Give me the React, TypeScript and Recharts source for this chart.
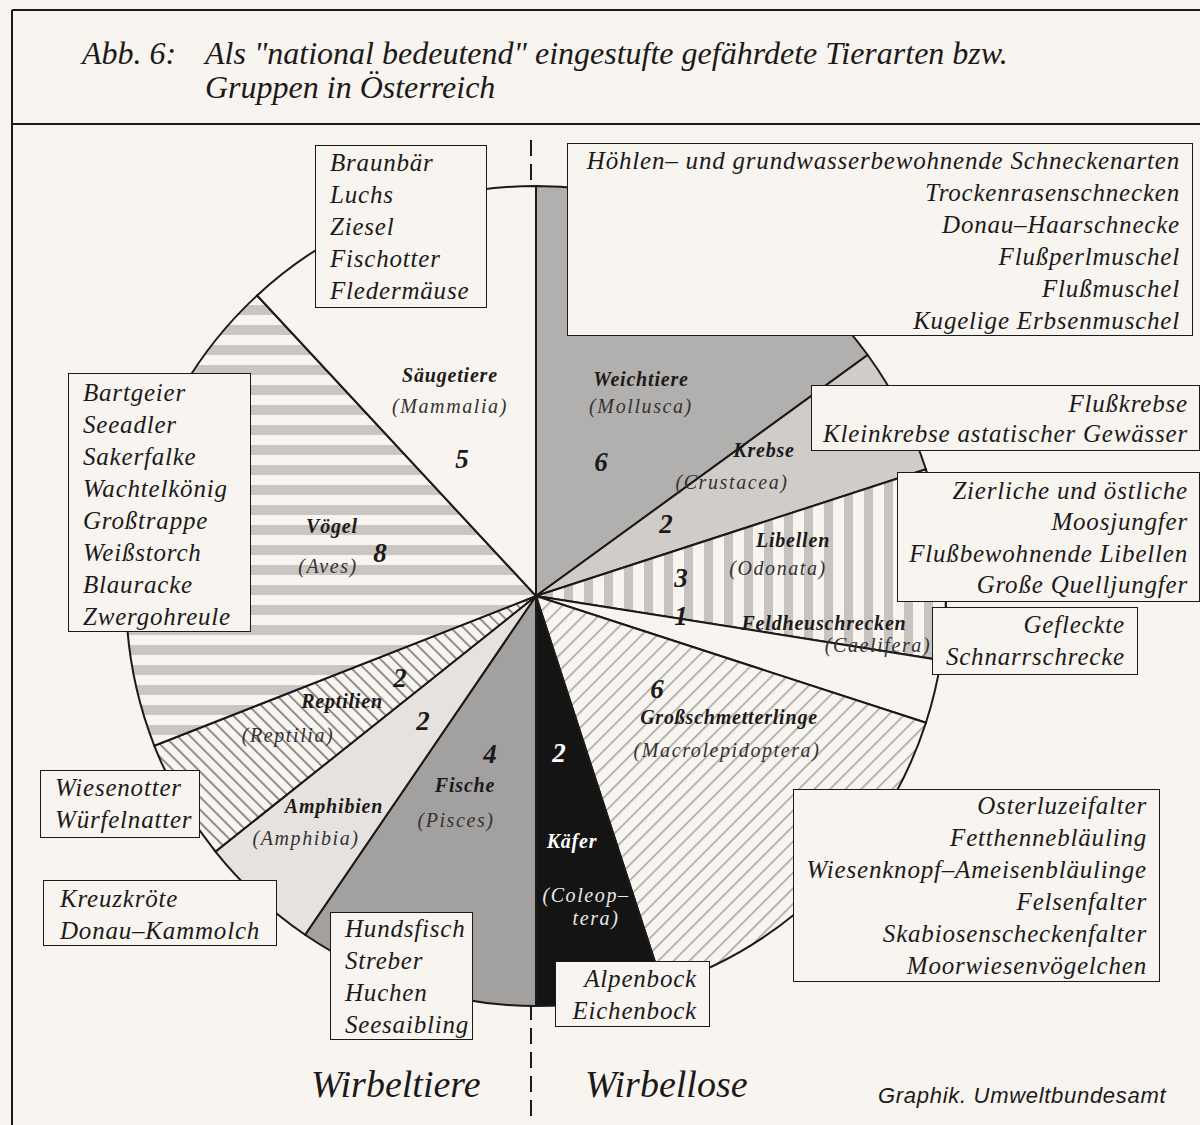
import React from "react";
import { PieChart, Pie, Cell } from "recharts";

// Wirbellose (rechte Hälfte), im Uhrzeigersinn ab 12 Uhr
const INV_GROUPS = ["Weichtiere", "Krebse", "Libellen", "Feldheuschrecken", "Großschmetterlinge", "Käfer"];
const INV_LATIN = ["(Mollusca)", "(Crustacea)", "(Odonata)", "(Caelifera)", "(Macrolepidoptera)", "(Coleop–\ntera)"];
const INV_COUNTS = [6, 2, 3, 1, 6, 2];

// Wirbeltiere (linke Hälfte), im Uhrzeigersinn ab 6 Uhr
const VERT_GROUPS = ["Fische", "Amphibien", "Reptilien", "Vögel", "Säugetiere"];
const VERT_LATIN = ["(Pisces)", "(Amphibia)", "(Reptilia)", "(Aves)", "(Mammalia)"];
const VERT_COUNTS = [4, 2, 2, 8, 5];

const SP_SAEUGER = ["Braunbär", "Luchs", "Ziesel", "Fischotter", "Fledermäuse"];
const SP_WEICHTIERE = [
  "Höhlen– und grundwasserbewohnende Schneckenarten",
  "Trockenrasenschnecken",
  "Donau–Haarschnecke",
  "Flußperlmuschel",
  "Flußmuschel",
  "Kugelige Erbsenmuschel",
];
const SP_KREBSE = ["Flußkrebse", "Kleinkrebse astatischer Gewässer"];
const SP_LIBELLEN = ["Zierliche und östliche", "Moosjungfer", "Flußbewohnende Libellen", "Große Quelljungfer"];
const SP_HEUSCHRECKEN = ["Gefleckte", "Schnarrschrecke"];
const SP_SCHMETTERLINGE = [
  "Osterluzeifalter",
  "Fetthennebläuling",
  "Wiesenknopf–Ameisenbläulinge",
  "Felsenfalter",
  "Skabiosenscheckenfalter",
  "Moorwiesenvögelchen",
];
const SP_KAEFER = ["Alpenbock", "Eichenbock"];
const SP_FISCHE = ["Hundsfisch", "Streber", "Huchen", "Seesaibling"];
const SP_AMPHIBIEN = ["Kreuzkröte", "Donau–Kammolch"];
const SP_REPTILIEN = ["Wiesenotter", "Würfelnatter"];
const SP_VOEGEL = ["Bartgeier", "Seeadler", "Sakerfalke", "Wachtelkönig", "Großtrappe", "Weißstorch", "Blauracke", "Zwergohreule"];

const BG = "#f8f4f0";
const INK = "#1c1a19";
const SERIF = "'Liberation Serif', 'Times New Roman', serif";
const CX = 531;
const CY = 591;
const R = 410;

const INV_FILLS = ["#b2b0ae", "#cfccc9", "url(#pLib)", BG, "url(#pSchm)", "#151414"];
const VERT_FILLS = ["#a3a1a0", "#e5e2df", "url(#pRept)", "url(#pVoeg)", BG];

// Beschriftungspositionen relativ zum Kreismittelpunkt
type LL = { n: [number, number]; l: [number, number][]; c: [number, number]; light?: boolean };
const INV_LAYOUT: LL[] = [
  { n: [110, -205], l: [[110, -178]], c: [70, -120] },
  { n: [233, -134], l: [[201, -102]], c: [135, -58] },
  { n: [262, -44], l: [[247, -16]], c: [150, -4] },
  { n: [293, 39], l: [[347, 61]], c: [150, 34] },
  { n: [198, 133], l: [[196, 166]], c: [126, 107] },
  { n: [41, 257], l: [[55, 311], [65, 334]], c: [28, 171], light: true },
];
const VERT_LAYOUT: LL[] = [
  { n: [-66, 201], l: [[-75, 236]], c: [-41, 172] },
  { n: [-197, 222], l: [[-225, 254]], c: [-108, 139] },
  { n: [-189, 117], l: [[-243, 151]], c: [-131, 96] },
  { n: [-199, -58], l: [[-203, -18]], c: [-151, -29] },
  { n: [-81, -209], l: [[-81, -178]], c: [-69, -123] },
];

const makeLabel = (names: string[], latin: string[], counts: number[], layout: LL[]) => (props: any) => {
  const i = props.index;
  const L = layout[i];
  const col = L.light ? "#ffffff" : INK;
  const lines = latin[i].split("\n");
  return (
    <g>
      <text x={CX + L.n[0]} y={CY + L.n[1]} textAnchor="middle" fill={col}
        style={{ fontFamily: SERIF, fontStyle: "italic", fontWeight: 700, fontSize: 20, letterSpacing: 0.8 }}>
        {names[i]}
      </text>
      {lines.map((t, k) => (
        <text key={k} x={CX + L.l[k][0]} y={CY + L.l[k][1]} textAnchor="middle" fill={L.light ? "#e8e8e8" : "#343230"}
          style={{ fontFamily: SERIF, fontStyle: "italic", fontSize: 20, letterSpacing: 1.6 }}>
          {t}
        </text>
      ))}
      <text x={CX + L.c[0]} y={CY + L.c[1]} textAnchor="middle" fill={col}
        style={{ fontFamily: SERIF, fontStyle: "italic", fontWeight: 700, fontSize: 27 }}>
        {counts[i]}
      </text>
    </g>
  );
};

type Box = { items: string[]; left: number; top: number; w: number; h: number; align: "left" | "right"; pad: number; lh: number; pt: number };
const BOXES: Box[] = [
  { items: SP_SAEUGER, left: 315, top: 145, w: 172, h: 163, align: "left", pad: 14, lh: 32, pt: 1 },
  { items: SP_WEICHTIERE, left: 567, top: 143, w: 626, h: 193, align: "right", pad: 12, lh: 32, pt: 1 },
  { items: SP_KREBSE, left: 811, top: 385, w: 389, h: 66, align: "right", pad: 11, lh: 30, pt: 3 },
  { items: SP_LIBELLEN, left: 897, top: 472, w: 303, h: 130, align: "right", pad: 11, lh: 31.3, pt: 2 },
  { items: SP_HEUSCHRECKEN, left: 932, top: 607, w: 206, h: 68, align: "right", pad: 12, lh: 32, pt: 1 },
  { items: SP_SCHMETTERLINGE, left: 793, top: 789, w: 367, h: 193, align: "right", pad: 12, lh: 32, pt: 0 },
  { items: SP_KAEFER, left: 555, top: 961, w: 155, h: 66, align: "right", pad: 12, lh: 32, pt: 1 },
  { items: SP_FISCHE, left: 330, top: 912, w: 143, h: 128, align: "left", pad: 14, lh: 32, pt: 0 },
  { items: SP_AMPHIBIEN, left: 43, top: 880, w: 234, h: 66, align: "left", pad: 16, lh: 32, pt: 2 },
  { items: SP_REPTILIEN, left: 40, top: 770, w: 160, h: 68, align: "left", pad: 14, lh: 32, pt: 1 },
  { items: SP_VOEGEL, left: 68, top: 373, w: 183, h: 259, align: "left", pad: 14, lh: 32, pt: 3 },
];

function SpeciesBox({ b }: { b: Box }) {
  return (
    <div style={{
      position: "absolute", left: b.left, top: b.top, width: b.w, height: b.h, boxSizing: "border-box",
      border: `1.5px solid ${INK}`, background: BG, paddingTop: b.pt,
      paddingLeft: b.align === "left" ? b.pad : 0, paddingRight: b.align === "right" ? b.pad : 0,
      textAlign: b.align, fontFamily: SERIF, fontStyle: "italic", fontSize: 25, letterSpacing: 0.8,
      lineHeight: `${b.lh}px`, color: INK, whiteSpace: "nowrap", overflow: "hidden",
    }}>
      {b.items.map((s) => <div key={s}>{s}</div>)}
    </div>
  );
}

const invData = INV_GROUPS.map((g, i) => ({ name: g, value: INV_COUNTS[i] }));
const vertData = VERT_GROUPS.map((g, i) => ({ name: g, value: VERT_COUNTS[i] }));

export default function App() {
  return (
    <div style={{ position: "relative", width: 1200, height: 1125, background: BG, overflow: "hidden" }}>
      <style>{`body{margin:0;background:${BG}}`}</style>
      <svg width="0" height="0" style={{ position: "absolute" }}>
        <defs>
          <pattern id="pVoeg" patternUnits="userSpaceOnUse" width="20" height="20">
            <rect width="20" height="20" fill={BG} />
            <rect y="5" width="20" height="10" fill="#c8c5c2" />
          </pattern>
          <pattern id="pLib" patternUnits="userSpaceOnUse" width="20" height="20">
            <rect width="20" height="20" fill={BG} />
            <rect x="4" width="9" height="20" fill="#c6c3c0" />
          </pattern>
          <pattern id="pSchm" patternUnits="userSpaceOnUse" width="11" height="11" patternTransform="rotate(45)">
            <rect width="11" height="11" fill={BG} />
            <rect width="1.6" height="11" fill="#a8a6a4" />
          </pattern>
          <pattern id="pRept" patternUnits="userSpaceOnUse" width="9" height="9" patternTransform="rotate(-45)">
            <rect width="9" height="9" fill={BG} />
            <rect width="1.7" height="9" fill="#7f7d7b" />
          </pattern>
        </defs>
      </svg>

      {/* Rahmen und Trennlinie */}
      <svg width={1200} height={1125} style={{ position: "absolute", left: 0, top: 0 }}>
        <line x1={12} y1={10} x2={1200} y2={10} stroke={INK} strokeWidth={2} />
        <line x1={12} y1={10} x2={12} y2={1125} stroke={INK} strokeWidth={2} />
        <line x1={12} y1={124} x2={1200} y2={124} stroke={INK} strokeWidth={2} />
        <line x1={CX} y1={140} x2={CX} y2={1118} stroke={INK} strokeWidth={2} strokeDasharray="16 8" />
      </svg>

      <div style={{ position: "absolute", left: 0, top: 0 }}>
        <PieChart width={1200} height={1125}>
          <Pie data={invData} dataKey="value" nameKey="name" cx={CX} cy={CY} outerRadius={R}
            startAngle={90} endAngle={-90} stroke={INK} strokeWidth={2} isAnimationActive={false}
            labelLine={false} label={makeLabel(INV_GROUPS, INV_LATIN, INV_COUNTS, INV_LAYOUT)}>
            {invData.map((d, i) => <Cell key={d.name} fill={INV_FILLS[i]} />)}
          </Pie>
          <Pie data={vertData} dataKey="value" nameKey="name" cx={CX} cy={CY} outerRadius={R}
            startAngle={-90} endAngle={-270} stroke={INK} strokeWidth={2} isAnimationActive={false}
            labelLine={false} label={makeLabel(VERT_GROUPS, VERT_LATIN, VERT_COUNTS, VERT_LAYOUT)}>
            {vertData.map((d, i) => <Cell key={d.name} fill={VERT_FILLS[i]} />)}
          </Pie>
        </PieChart>
      </div>

      {/* Titel */}
      <div style={{ position: "absolute", left: 82, top: 36, fontFamily: SERIF, fontStyle: "italic", fontSize: 32, color: INK, lineHeight: "34px", whiteSpace: "nowrap" }}>
        Abb. 6:
      </div>
      <div style={{ position: "absolute", left: 205, top: 36, fontFamily: SERIF, fontStyle: "italic", fontSize: 32, color: INK, lineHeight: "34px", whiteSpace: "nowrap" }}>
        <div>Als "national bedeutend" eingestufte gefährdete Tierarten bzw.</div>
        <div>Gruppen in Österreich</div>
      </div>

      {BOXES.map((b) => <SpeciesBox key={b.items[0]} b={b} />)}

      {/* Fußzeile */}
      <div style={{ position: "absolute", left: 311, top: 1062, fontFamily: SERIF, fontStyle: "italic", fontSize: 38, color: INK, whiteSpace: "nowrap", lineHeight: "44px" }}>
        Wirbeltiere
      </div>
      <div style={{ position: "absolute", left: 585, top: 1062, fontFamily: SERIF, fontStyle: "italic", fontSize: 38, color: INK, whiteSpace: "nowrap", lineHeight: "44px" }}>
        Wirbellose
      </div>
      <div style={{ position: "absolute", left: 878, top: 1083, fontFamily: "'Liberation Sans', Arial, sans-serif", fontStyle: "italic", fontSize: 22, letterSpacing: 0.7, color: INK, whiteSpace: "nowrap", lineHeight: "26px" }}>
        Graphik. Umweltbundesamt
      </div>
    </div>
  );
}
